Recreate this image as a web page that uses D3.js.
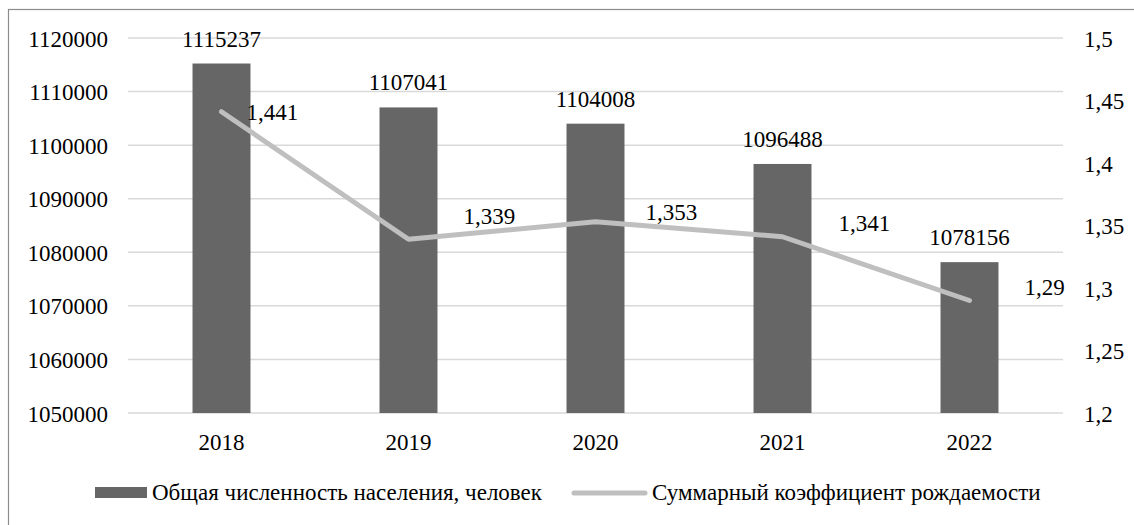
<!DOCTYPE html>
<html><head><meta charset="utf-8">
<script src="https://cdn.jsdelivr.net/npm/d3@7"></script>
<style>
html,body{margin:0;padding:0;background:#fff;}
svg{display:block;}
svg text{font-family:"Liberation Serif","Times New Roman",Times,serif !important;}
</style></head>
<body><svg id="c" width="1134" height="525"></svg>
<script>
const years = ["2018","2019","2020","2021","2022"];
const population = [1115237, 1107041, 1104008, 1096488, 1078156];
const fertility = [1.441, 1.339, 1.353, 1.341, 1.29];
const fertilityLabels = ["1,441","1,339","1,353","1,341","1,29"];
const leftTicks = [1050000,1060000,1070000,1080000,1090000,1100000,1110000,1120000];
const rightTicks = [1.2,1.25,1.3,1.35,1.4,1.45,1.5];
const seriesNames = ["Общая численность населения, человек","Суммарный коэффициент рождаемости"];
// label offsets (style) for the line's data labels
const lblDx = [25, 55, 50, 56, 55];
const lblDy = [8, -15, -2, -6, -6];

const svg = d3.select("#c");
const fs = 23;
svg.append("rect").attr("x",8.5).attr("y",9.5).attr("width",1300).attr("height",700)
  .attr("fill","none").attr("stroke","#8c8c8c").attr("stroke-width",1.2);

const x = d3.scaleBand().domain(years).range([128,1063]).paddingInner(0.69).paddingOuter(0.345);
const yL = d3.scaleLinear().domain([1050000,1120000]).range([413,38]);
const yR = d3.scaleLinear().domain([1.2,1.5]).range([413,38]);

svg.append("g").selectAll("line").data(leftTicks).join("line")
  .attr("x1",128).attr("x2",1063).attr("y1",d=>yL(d)).attr("y2",d=>yL(d))
  .attr("stroke","#d9d9d9").attr("stroke-width",1.5);

const gl = svg.append("g").attr("transform","translate(108,0)")
  .call(d3.axisLeft(yL).tickValues(leftTicks).tickSize(0).tickPadding(0).tickFormat(d=>String(d)));
gl.select(".domain").remove();
gl.selectAll("text").attr("font-size",fs).attr("fill","#000").attr("dy","0.35em");

const gr = svg.append("g").attr("transform","translate(1084,0)")
  .call(d3.axisRight(yR).tickValues(rightTicks).tickSize(0).tickPadding(0)
  .tickFormat(d=>String(+d.toFixed(2)).replace(".",",")));
gr.select(".domain").remove();
gr.selectAll("text").attr("font-size",fs).attr("fill","#000").attr("dy","0.35em");

const gx = svg.append("g").attr("transform","translate(0,413)")
  .call(d3.axisBottom(x).tickSize(0).tickPadding(0));
gx.select(".domain").remove();
gx.selectAll("text").attr("font-size",fs).attr("fill","#000").attr("dy",0).attr("y",37);

svg.append("g").selectAll("rect").data(population).join("rect")
  .attr("x",(d,i)=>x(years[i])).attr("width",x.bandwidth())
  .attr("y",d=>yL(d)).attr("height",d=>yL(1050000)-yL(d)).attr("fill","#666666");
svg.append("g").selectAll("text").data(population).join("text")
  .attr("x",(d,i)=>x(years[i])+x.bandwidth()/2).attr("y",d=>yL(d)-17)
  .attr("text-anchor","middle").attr("font-size",fs).text(d=>String(d));

const cx = i => x(years[i])+x.bandwidth()/2;
const line = d3.line().x((d,i)=>cx(i)).y(d=>yR(d));
svg.append("path").datum(fertility).attr("d",line).attr("fill","none")
  .attr("stroke","#bfbfbf").attr("stroke-width",5).attr("stroke-linecap","round").attr("stroke-linejoin","round");
svg.append("g").selectAll("text").data(fertility).join("text")
  .attr("x",(d,i)=>cx(i)+lblDx[i]).attr("y",(d,i)=>yR(d)+lblDy[i])
  .attr("font-size",fs).text((d,i)=>fertilityLabels[i]);

const lg = svg.append("g");
lg.append("rect").attr("x",95).attr("y",487).attr("width",52).attr("height",11).attr("fill","#666666");
lg.append("text").attr("x",152).attr("y",500).attr("font-size",fs).text(seriesNames[0]);
lg.append("line").attr("x1",574).attr("x2",645).attr("y1",493).attr("y2",493)
  .attr("stroke","#bfbfbf").attr("stroke-width",5).attr("stroke-linecap","round");
lg.append("text").attr("x",652).attr("y",500).attr("font-size",fs).text(seriesNames[1]);
</script></body></html>
